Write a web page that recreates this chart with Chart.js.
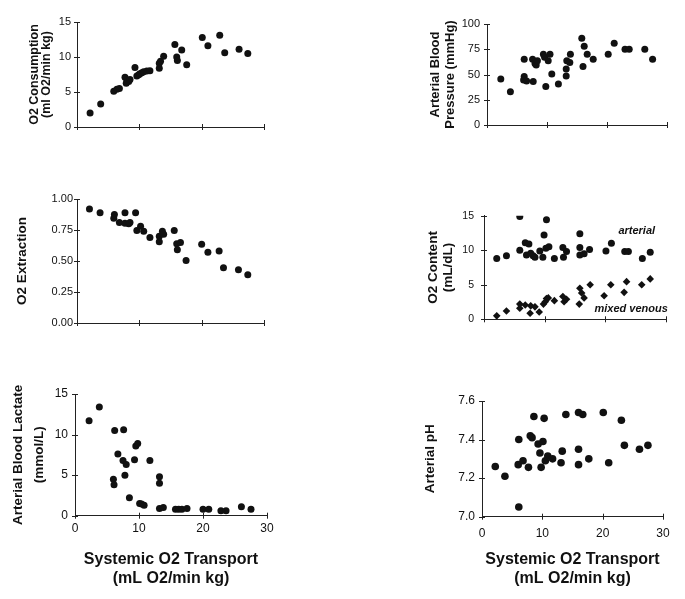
<!DOCTYPE html>
<html><head><meta charset="utf-8">
<script src="https://cdn.jsdelivr.net/npm/chart.js@4.4.1/dist/chart.umd.min.js"></script>
<style>
html,body{margin:0;padding:0;background:#fff;width:685px;height:599px;overflow:hidden;position:relative;}
canvas{position:absolute;}
</style></head><body>
<canvas id="c1" width="300" height="160" style="left:0px;top:0px"></canvas>
<canvas id="c2" width="305" height="160" style="left:380px;top:0px"></canvas>
<canvas id="c3" width="300" height="170" style="left:0px;top:170px"></canvas>
<canvas id="c4" width="305" height="150" style="left:380px;top:190px"></canvas>
<canvas id="c5" width="300" height="229" style="left:0px;top:370px"></canvas>
<canvas id="c6" width="305" height="229" style="left:380px;top:370px"></canvas>
<script>
// ---------- data ----------
const transportTicks = [0, 10, 20, 30];

const vo2X = [2.1,3.8,5.9,6.4,6.8,7.7,8.0,8.3,7.9,8.5,9.3,9.6,9.9,10.1,10.4,10.7,11.2,11.7,13.2,13.2,13.4,13.9,15.7,16.0,16.1,16.8,17.6,20.1,21.0,22.9,23.7,26.0,27.4];
const vo2Y = [2.0,3.3,5.1,5.4,5.5,7.1,6.7,6.5,6.25,6.8,8.5,7.3,7.45,7.6,7.75,7.9,8.0,8.05,8.4,9.1,9.4,10.1,11.8,10.0,9.5,11.0,8.9,12.8,11.6,13.1,10.6,11.1,10.5];
const vo2Ticks = [0, 5, 10, 15];

const bpX = [2.3,3.9,6.2,6.2,6.1,6.6,7.7,7.6,8.0,8.2,8.4,9.4,9.6,9.8,10.2,10.5,10.8,11.9,13.2,13.2,13.3,13.8,13.9,15.8,16.0,16.2,16.7,17.7,20.2,21.2,23.0,23.7,26.3,27.6];
const bpY = [45.5,33,65,48,44.5,43.5,43,65,61,59.5,63.5,70,67,38,63.5,70,50.5,40.5,55.5,48.5,63.5,62,70,86,58,78,70,65,70,81,75,75,75,65];
const bpTicks = [0, 25, 50, 75, 100];

const extX = [2.0,3.7,6.0,5.9,6.8,7.7,7.7,8.3,8.5,9.4,9.6,10.2,10.7,11.7,13.2,13.2,13.7,13.9,15.6,16.0,16.1,16.6,17.5,20.0,21.0,22.8,23.5,25.9,27.4];
const extY = [0.92,0.89,0.875,0.845,0.81,0.89,0.805,0.80,0.81,0.89,0.745,0.78,0.74,0.69,0.655,0.70,0.74,0.715,0.745,0.64,0.59,0.65,0.505,0.635,0.57,0.58,0.445,0.43,0.39];
const extTicks = [0, 0.25, 0.5, 0.75, 1.0];

const artX = [2.1,3.7,5.9,5.9,6.8,7.4,7.0,7.7,8.1,8.4,9.2,9.7,9.9,10.3,10.2,10.7,11.6,13.0,13.1,13.6,15.8,15.8,15.8,16.5,17.4,20.1,21.0,23.2,23.8,26.1,27.4];
const artY = [8.8,9.2,14.9,10.0,11.1,10.9,9.3,9.55,9.2,9.0,9.9,9.0,12.2,14.4,10.3,10.5,8.8,10.4,9.0,9.8,12.4,10.4,9.3,9.5,10.1,9.9,11.0,9.8,9.8,8.8,9.7];
const venX = [2.1,3.7,5.9,5.9,6.8,7.6,7.7,8.4,9.1,9.8,10.1,10.3,10.6,11.6,13.0,13.2,13.6,15.7,15.8,16.1,16.5,17.5,19.8,20.9,23.1,23.5,26.0,27.4];
const venY = [0.5,1.2,1.6,2.2,2.07,0.87,1.95,1.8,1.06,2.2,2.55,3.0,3.1,2.7,3.3,2.55,2.9,2.2,4.5,3.8,3.1,5.0,3.4,5.0,3.9,5.45,5.0,5.85];
const contentTicks = [0, 5, 10, 15];

const lacX = [2.2,3.8,6.2,7.6,6.7,6.0,6.1,7.5,8.0,7.8,8.5,9.3,9.5,9.8,10.1,10.4,10.8,11.7,13.2,13.2,13.2,13.8,15.7,16.2,16.7,17.5,20.0,20.9,22.8,23.6,26.0,27.5];
const lacY = [11.7,13.4,10.5,10.6,7.6,4.5,3.8,6.8,6.3,5.0,2.2,6.9,8.6,8.9,1.5,1.45,1.3,6.8,4.8,4.0,0.9,1.0,0.8,0.8,0.8,0.9,0.8,0.8,0.6,0.6,1.1,0.8];
const lacTicks = [0, 5, 10, 15];

const phX = [2.2,3.8,6.0,6.1,6.1,6.8,7.7,8.0,8.3,8.6,9.3,9.6,9.8,10.1,10.3,10.5,10.9,11.7,13.1,13.3,13.9,16.0,16.0,16.0,16.7,17.7,20.1,21.0,23.1,23.6,26.1,27.5];
const phY = [7.26,7.21,7.27,7.40,7.05,7.29,7.256,7.42,7.41,7.52,7.377,7.33,7.256,7.39,7.51,7.29,7.315,7.30,7.28,7.34,7.53,7.54,7.35,7.27,7.53,7.30,7.54,7.28,7.50,7.37,7.35,7.37];
const phTicks = [7.0, 7.2, 7.4, 7.6];

// ---------- styling ----------
const FONT = '"Liberation Sans", Arial, Helvetica, sans-serif';
const AXIS = '#222';
const INK = '#111';
Chart.defaults.font.family = FONT;
Chart.defaults.color = INK;

const crossTicks = {
  id: 'crossTicks',
  afterDraw(chart) {
    const ctx = chart.ctx, xs = chart.scales.x, ys = chart.scales.y, a = chart.chartArea;
    ctx.save();
    ctx.strokeStyle = AXIS; ctx.lineWidth = 1;
    ctx.beginPath();
    xs.ticks.forEach(t => {
      const px = Math.round(xs.getPixelForValue(t.value)) + 0.5;
      ctx.moveTo(px, a.bottom - 3); ctx.lineTo(px, a.bottom + 3);
    });
    ys.ticks.forEach(t => {
      const py = Math.round(ys.getPixelForValue(t.value)) + 0.5;
      ctx.moveTo(a.left - 3, py); ctx.lineTo(a.left + 3, py);
    });
    ctx.stroke();
    ctx.restore();
  }
};

const seriesLabels = {
  id: 'seriesLabels',
  afterDatasetsDraw(chart, args, opts) {
    if (!opts || !opts.items) return;
    const ctx = chart.ctx, xs = chart.scales.x, ys = chart.scales.y;
    ctx.save();
    ctx.font = 'italic bold 11px ' + FONT;
    ctx.fillStyle = INK; ctx.textAlign = 'right'; ctx.textBaseline = 'middle';
    opts.items.forEach(it => ctx.fillText(it.text, xs.getPixelForValue(it.x), ys.getPixelForValue(it.y)));
    ctx.restore();
  }
};

function pts(xs, ys) { return xs.map((x, i) => ({x: x, y: ys[i]})); }

function panel(id, p) {
  const xScale = {
    type: 'linear', min: 0, max: 30,
    afterBuildTicks: s => { s.ticks = transportTicks.map(v => ({value: v})); },
    afterFit: s => { s.height = p.xH; },
    grid: {display: false, drawTicks: false},
    border: {display: true, color: AXIS, width: 1},
    ticks: {display: !!p.xLabels, padding: p.xTickPad || 6, color: INK, font: {size: 12}},
    title: p.xTitle ? {
      display: true, text: ['Systemic O2 Transport', '(mL O2/min kg)'], color: INK,
      font: {size: 16, weight: 'bold', lineHeight: '19px'}, padding: {top: 0, bottom: p.xTitlePad}
    } : {display: false}
  };
  const yScale = {
    type: 'linear', min: p.yTicks[0], max: p.yTicks[p.yTicks.length - 1],
    afterBuildTicks: s => { s.ticks = p.yTicks.map(v => ({value: v})); },
    afterFit: s => { s.width = p.yW; },
    grid: {display: false, drawTicks: false},
    border: {display: true, color: AXIS, width: 1},
    ticks: {padding: p.yTickPad, color: INK, font: {size: p.yTickSize}, callback: p.yFmt},
    title: {
      display: true, text: p.yTitle, color: INK,
      font: {size: p.yTitleSize, weight: 'bold', lineHeight: p.yTitleLH + 'px'},
      padding: {top: p.yTitlePad, bottom: 0}
    }
  };
  new Chart(document.getElementById(id), {
    type: 'scatter',
    data: {datasets: p.datasets},
    options: {
      responsive: false, animation: false, events: [],
      layout: {padding: {left: 0, top: p.padTop, right: p.padRight, bottom: 0}},
      plugins: {legend: {display: false}, tooltip: {enabled: false}, seriesLabels: p.labels || {}},
      scales: {x: xScale, y: yScale}
    },
    plugins: [crossTicks, seriesLabels]
  });
}

function dots(xs, ys, r, style) {
  return {data: pts(xs, ys), pointRadius: r || 3.5, pointStyle: style || 'circle',
          backgroundColor: INK, borderColor: INK, borderWidth: 0, showLine: false};
}

panel('c1', {
  datasets: [dots(vo2X, vo2Y)], yTicks: vo2Ticks, yFmt: v => String(v),
  padTop: 22, padRight: 36, yW: 77, xH: 33,
  yTickPad: 6, yTickSize: 11,
  yTitle: ['O2 Consumption', '(ml O2/min kg)'], yTitleSize: 12.5, yTitleLH: 12, yTitlePad: 29
});
panel('c2', {
  datasets: [dots(bpX, bpY)], yTicks: bpTicks, yFmt: v => String(v),
  padTop: 24, padRight: 18, yW: 107, xH: 35,
  yTickPad: 7, yTickSize: 11,
  yTitle: ['Arterial Blood', 'Pressure (mmHg)'], yTitleSize: 13, yTitleLH: 15, yTitlePad: 47.5
});
panel('c3', {
  datasets: [dots(extX, extY)], yTicks: extTicks, yFmt: v => Number(v).toFixed(2),
  padTop: 29, padRight: 36, yW: 77, xH: 17,
  yTickPad: 4, yTickSize: 11,
  yTitle: 'O2 Extraction', yTitleSize: 13.5, yTitleLH: 16, yTitlePad: 14
});
panel('c4', {
  datasets: [dots(artX, artY), dots(venX, venY, 3.8, 'rectRot')], yTicks: contentTicks, yFmt: v => String(v),
  padTop: 25.7, padRight: 19, yW: 104, xH: 20.7,
  yTickPad: 10, yTickSize: 10.5,
  yTitle: ['O2 Content', '(mL/dL)'], yTitleSize: 13.5, yTitleLH: 15, yTitlePad: 45.5,
  labels: {items: [{text: 'arterial', x: 28.2, y: 12.8}, {text: 'mixed venous', x: 30.3, y: 1.5}]}
});
panel('c5', {
  datasets: [dots(lacX, lacY)], yTicks: lacTicks, yFmt: v => String(v),
  padTop: 24, padRight: 33, yW: 75, xH: 83.3,
  xLabels: true, xTickPad: 6, xTitle: true, xTitlePad: 10.5,
  yTickPad: 7, yTickSize: 12,
  yTitle: ['Arterial Blood Lactate', '(mmol/L)'], yTitleSize: 13.5, yTitleLH: 21, yTitlePad: 7.5
});
panel('c6', {
  datasets: [dots(phX, phY, 3.8)], yTicks: phTicks, yFmt: v => Number(v).toFixed(1),
  padTop: 31, padRight: 22, yW: 102, xH: 82.3,
  xLabels: true, xTickPad: 9.4, xTitle: true, xTitlePad: 10.5,
  yTickPad: 7, yTickSize: 12,
  yTitle: 'Arterial pH', yTitleSize: 13.5, yTitleLH: 16, yTitlePad: 42
});
</script>
</body></html>
